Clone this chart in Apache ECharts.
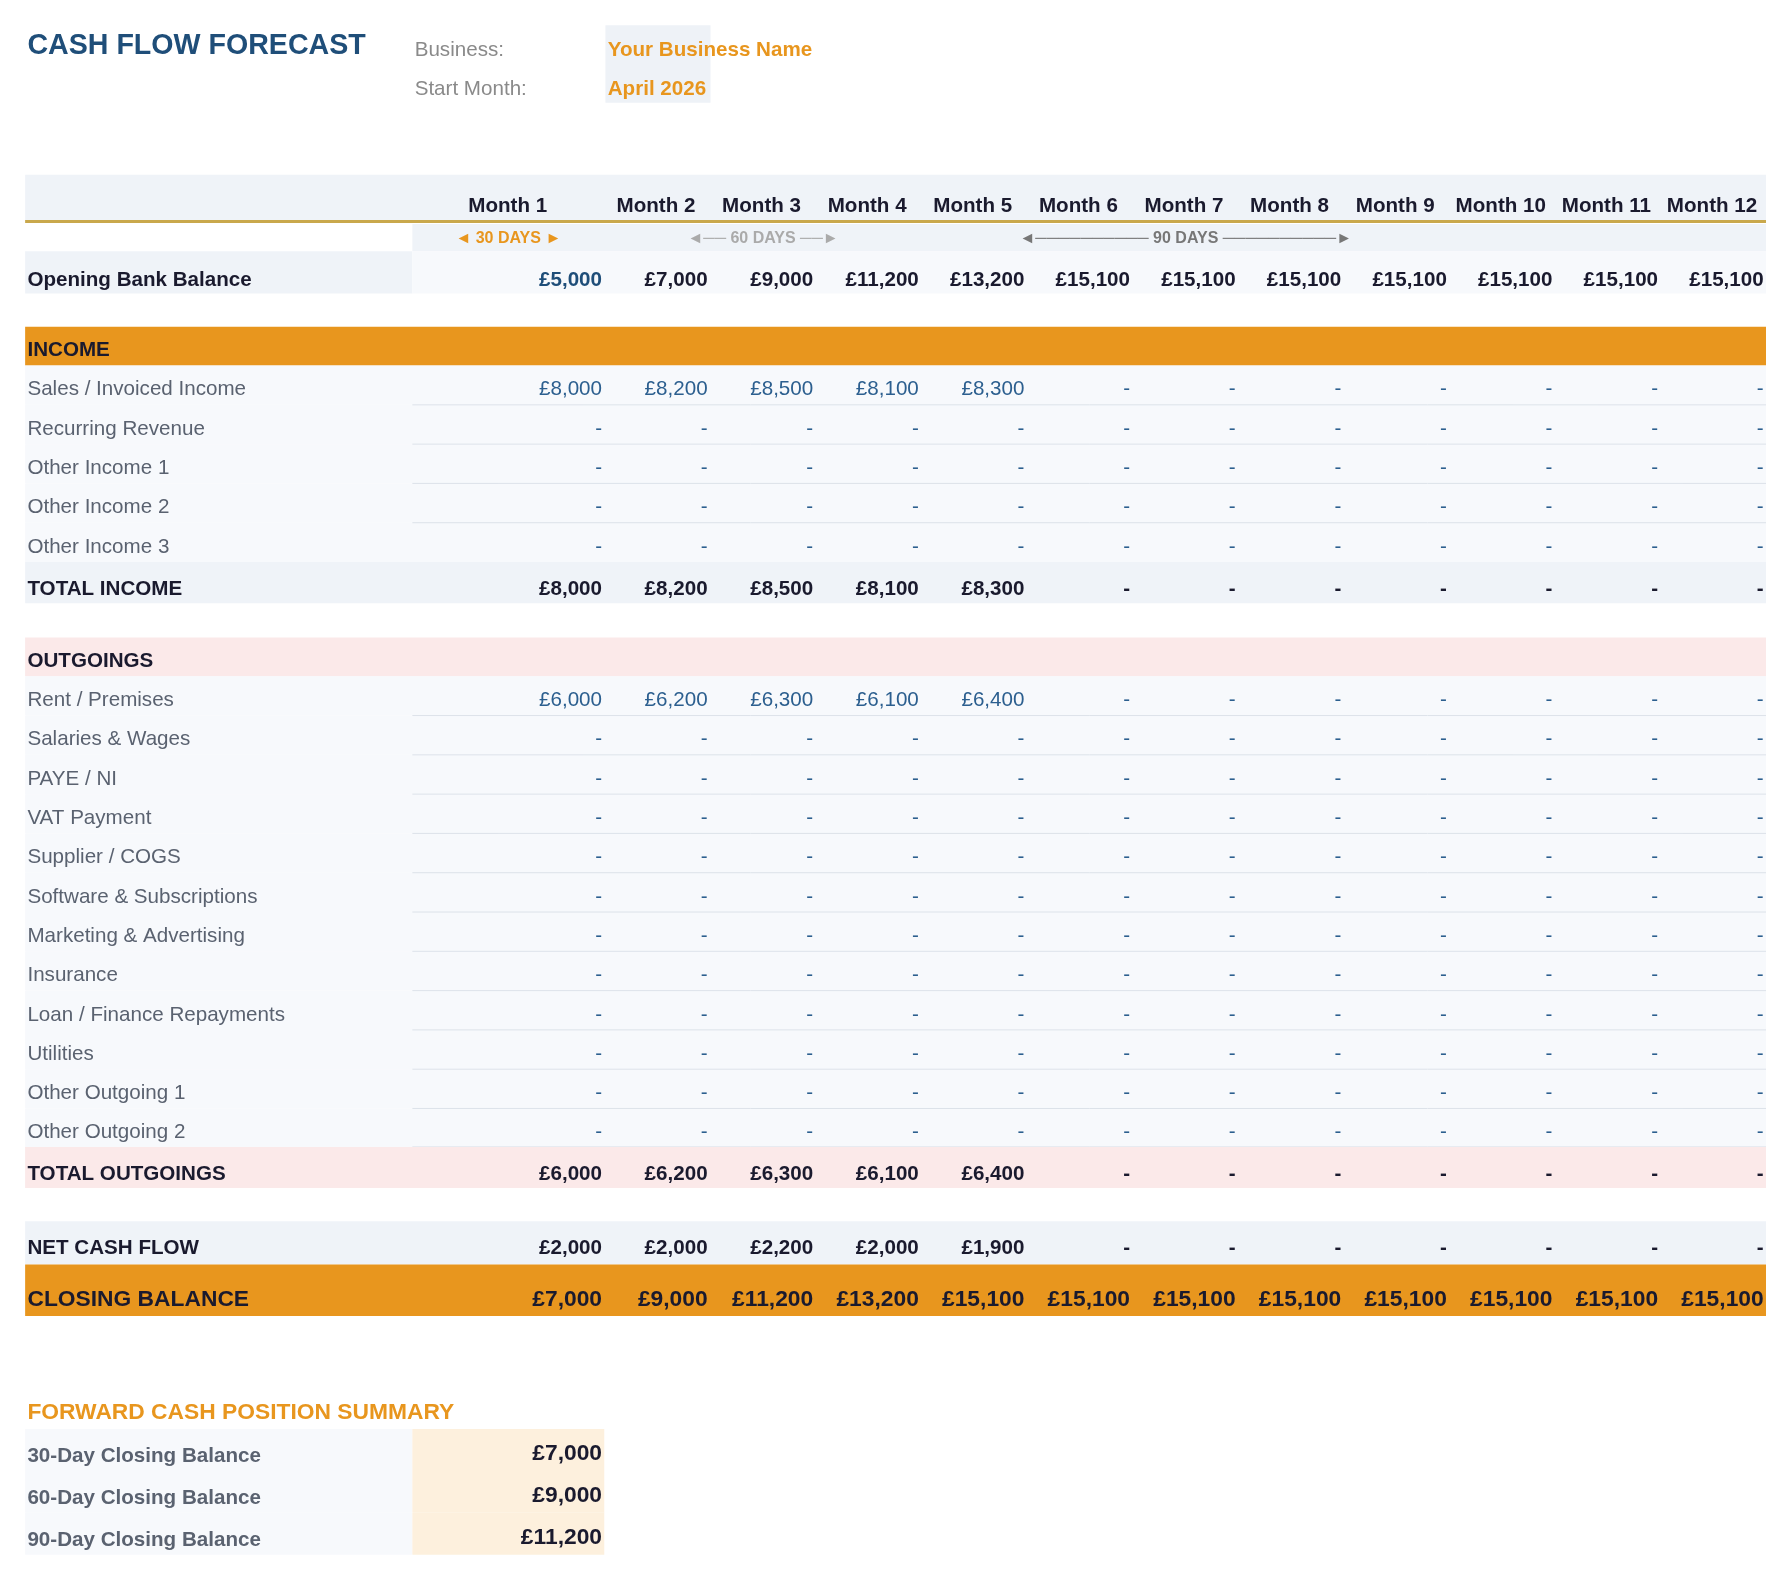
<!DOCTYPE html>
<html><head><meta charset="utf-8">
<script src="https://cdn.jsdelivr.net/npm/echarts@6/dist/echarts.min.js"></script>
<style>html,body{margin:0;padding:0;background:#fff}#c{width:1782px;height:1572px}</style>
</head><body><div id="c"></div>
<script>
var months = ['Month 1','Month 2','Month 3','Month 4','Month 5','Month 6','Month 7','Month 8','Month 9','Month 10','Month 11','Month 12'];
var openingBalance = [5000,7000,9000,11200,13200,15100,15100,15100,15100,15100,15100,15100];
var incomeLabels = ['Sales / Invoiced Income','Recurring Revenue','Other Income 1','Other Income 2','Other Income 3'];
var salesIncome = [8000,8200,8500,8100,8300,0,0,0,0,0,0,0];
var outgoingLabels = ['Rent / Premises','Salaries & Wages','PAYE / NI','VAT Payment','Supplier / COGS','Software & Subscriptions','Marketing & Advertising','Insurance','Loan / Finance Repayments','Utilities','Other Outgoing 1','Other Outgoing 2'];
var rentOutgoing = [6000,6200,6300,6100,6400,0,0,0,0,0,0,0];
var totalIncome = [8000,8200,8500,8100,8300,0,0,0,0,0,0,0];
var totalOutgoings = [6000,6200,6300,6100,6400,0,0,0,0,0,0,0];
var netCashFlow = [2000,2000,2200,2000,1900,0,0,0,0,0,0,0];
var closingBalance = [7000,9000,11200,13200,15100,15100,15100,15100,15100,15100,15100,15100];
var summaryLabels = ['30-Day Closing Balance','60-Day Closing Balance','90-Day Closing Balance'];
var summaryValues = [7000,9000,11200];

var k = 1782/1560;
var F = 'Liberation Sans, Arial, sans-serif';
var els = [];
function R(x,y,w,h,fill){els.push({type:'rect',shape:{x:x*k,y:y*k,width:w*k,height:h*k},style:{fill:fill},silent:true});}
function L(x1,y1,x2,y2,c,w){els.push({type:'line',shape:{x1:x1*k,y1:y1*k,x2:x2*k,y2:y2*k},style:{stroke:c,lineWidth:w}});}
function T(x,y,t,o){o=o||{};els.push({type:'text',x:x*k,y:y*k,style:{text:t,fill:o.c||'#1a1a2e',font:(o.b?'bold ':'')+((o.s||18)*k).toFixed(1)+'px '+F,textAlign:o.a||'left',textVerticalAlign:'middle'}});}
function money(v){return v?'£'+v.toLocaleString('en-GB'):'-';}
var colR = [528]; for(var i=1;i<12;i++) colR.push(528+i*92.45);
var colL = [361]; for(i=1;i<12;i++) colL.push(colR[i-1]);
function rowVals(arr,y,o,firstColor){
  for(var i=0;i<12;i++){var oo=Object.assign({a:'right'},o); if(i===0&&firstColor) oo.c=firstColor; T(colR[i]-1,y,money(arr[i]),oo);}
}
// header
T(24,40,'CASH FLOW FORECAST',{c:'#1f4e79',b:true,s:25});
T(363,44,'Business:',{c:'#8a8a8a',s:18});
T(363,78,'Start Month:',{c:'#8a8a8a',s:18});
R(530,22,92,68,'#eef2f7');
T(532,44,'Your Business Name',{c:'#e8961e',b:true,s:18});
T(532,78,'April 2026',{c:'#e8961e',b:true,s:18});
// month header
R(22,153,1524,41,'#eff3f8');
months.forEach(function(m,i){T((colL[i]+colR[i])/2,181,m,{b:true,a:'center',s:18});});
L(22,194,1546,194,'#c9a84c',3);
R(361,196,1185,24,'#eff3f8');
T(445,209,'◄ 30 DAYS ►',{c:'#e8961e',b:true,s:14,a:'center'});
T(668,209,'◄── 60 DAYS ──►',{c:'#aaaaaa',b:true,s:14,a:'center'});
T(1038,209,'◄────────── 90 DAYS ──────────►',{c:'#777777',b:true,s:14,a:'center'});
// opening
R(22,220,339,37,'#eff3f8'); R(361,220,1185,37,'#f7f9fc');
T(24,245,'Opening Bank Balance',{b:true});
rowVals(openingBalance,245,{b:true},'#1f4e79');
// income
R(22,286,1524,34,'#e8961e');
T(24,307,'INCOME',{b:true});
var rh=34.4;
function itemRows(labels,firstArr,top){
  labels.forEach(function(lb,j){
    var y0=top+j*rh; R(22,y0,1524,rh,'#f7f9fc');
    if(j>0) L(361,y0,1546,y0,'#dde3ea',1);
    T(24,y0+rh/2+4,lb,{c:'#5a6270'});
    var arr = j===0?firstArr:[0,0,0,0,0,0,0,0,0,0,0,0];
    rowVals(arr,y0+rh/2+4,{c:'#2c5f8f'});
  });
}
itemRows(incomeLabels,salesIncome,320);
R(22,492,1524,36,'#eff3f8');
T(24,516,'TOTAL INCOME',{b:true}); rowVals(totalIncome,516,{b:true});
// outgoings
R(22,558,1524,34,'#fbe9e9');
T(24,579,'OUTGOINGS',{b:true});
itemRows(outgoingLabels,rentOutgoing,592);
L(361,1004,1546,1004,'#dde3ea',1);
R(22,1004,1524,36,'#fbe9e9');
T(24,1028,'TOTAL OUTGOINGS',{b:true}); rowVals(totalOutgoings,1028,{b:true});
R(22,1069,1524,38,'#eff3f8');
T(24,1093,'NET CASH FLOW',{b:true}); rowVals(netCashFlow,1093,{b:true});
R(22,1107,1524,45,'#e8961e');
T(24,1138,'CLOSING BALANCE',{b:true,s:20}); rowVals(closingBalance,1138,{b:true,s:20});
// summary
T(24,1237,'FORWARD CASH POSITION SUMMARY',{c:'#e8961e',b:true,s:20});
summaryLabels.forEach(function(lb,j){
  var y0=1251+j*36.7;
  R(22,y0,339,36.7,'#f7f9fc'); R(361,y0,168,36.7,'#fdf0dd');
  T(24,y0+24,lb,{c:'#5a6270',b:true});
  T(527,y0+22,money(summaryValues[j]),{b:true,s:20,a:'right'});
});
var chart = echarts.init(document.getElementById('c'));
chart.setOption({animation:false,graphic:{elements:els}});
</script></body></html>
